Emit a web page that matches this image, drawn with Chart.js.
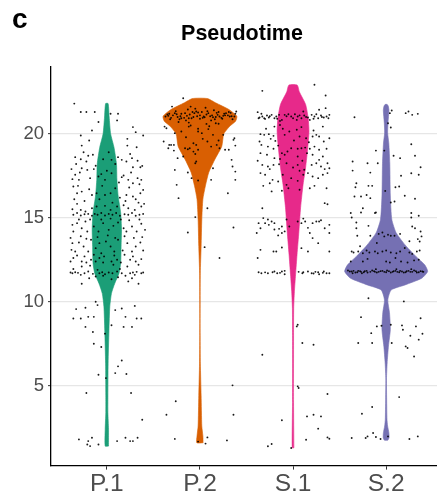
<!DOCTYPE html>
<html>
<head>
<meta charset="utf-8">
<script src="https://cdn.jsdelivr.net/npm/chart.js@4/dist/chart.umd.min.js"></script>
<style>
html,body{margin:0;padding:0;background:#fff;overflow:hidden;width:437px;height:502px;}
canvas{display:block;}
</style>
</head>
<body>
<canvas id="c" width="446" height="502"></canvas>
<script>
// ---------- DATA ----------
const categories = ['P.1', 'P.2', 'S.1', 'S.2'];
const yTicks = [5, 10, 15, 20];
const chartTitle = 'Pseudotime';
const panelLabel = 'c';

// violin density profiles (value, relative half-width; 1 = widest violin)
const p1DensY = [1.4, 2.4, 3.4, 4.4, 6.3, 8.3, 9.7, 10.5, 11.1, 11.7, 12.3, 13.3, 14.3, 15.3, 16.3, 17.3, 18.2, 19.2, 20.0, 21.0, 21.8];
const p1DensW = [0.04, 0.04, 0.025, 0.025, 0.03, 0.05, 0.07, 0.11, 0.19, 0.29, 0.33, 0.34, 0.35, 0.33, 0.27, 0.24, 0.23, 0.17, 0.09, 0.055, 0.03];

const p2DensY = [1.6, 2.0, 2.6, 4.4, 6.3, 8.0, 10.0, 11.7, 13.3, 14.9, 16.1, 16.9, 17.7, 18.5, 19.25, 20.0, 20.45, 20.75, 21.05, 21.45, 21.85, 22.1];
const p2DensW = [0.075, 0.07, 0.044, 0.028, 0.01, 0.004, 0.004, 0.008, 0.028, 0.044, 0.07, 0.13, 0.21, 0.36, 0.52, 0.57, 0.71, 0.85, 0.88, 0.69, 0.37, 0.18];

const s1DensY = [1.3, 4.0, 8.0, 9.6, 10.6, 11.6, 12.8, 14.2, 15.6, 17.0, 18.0, 19.15, 20.15, 20.95, 21.75, 22.5, 22.9];
const s1DensW = [0.02, 0.012, 0.012, 0.015, 0.032, 0.06, 0.095, 0.14, 0.18, 0.24, 0.30, 0.35, 0.38, 0.36, 0.30, 0.15, 0.10];

const s2DensY = [1.75, 1.9, 2.2, 2.6, 3.0, 4.2, 5.4, 6.35, 7.35, 8.35, 9.35, 10.1, 10.7, 11.0, 11.4, 11.8, 12.2, 12.7, 13.3, 14.1, 14.9, 16.3, 18.25, 19.45, 20.05, 20.65, 21.4, 21.65, 21.75];
const s2DensW = [0.04, 0.07, 0.065, 0.035, 0.02, 0.012, 0.008, 0.024, 0.055, 0.10, 0.08, 0.04, 0.12, 0.45, 0.85, 0.99, 0.92, 0.71, 0.48, 0.24, 0.135, 0.10, 0.087, 0.063, 0.036, 0.044, 0.067, 0.05, 0.025];

// jittered cells: [jitter offset, pseudotime]
const p1Points = [
[-0.35,21.8],[-0.28,21.3],[-0.22,21.3],[-0.13,21.3],[0.04,21.2],[0.12,21.2],[0.11,20.8],[-0.09,20.7],[0.28,20.4],[0.31,20.1],[-0.28,19.9],[-0.16,20.2],[0.39,19.9],[-0.19,19.6],[0.22,19.7],[-0.27,19.3],[0.22,19.3],[0.32,19.2],
[-0.34,18.61],[-0.28,18.49],[-0.22,18.35],[-0.2,18.69],[-0.15,18.75],[-0.04,18.49],[0.05,18.45],[0.12,18.61],[0.16,18.45],[0.21,18.35],[0.27,18.55],[0.36,18.01],[0.38,18.09],[0.28,18.01],[-0.27,17.95],[-0.21,17.85],
[-0.37,17.3],[-0.34,17.56],[-0.3,17.26],[-0.18,17.36],[-0.09,17.46],[-0.06,17.6],[-0.02,17.26],[0.05,17.65],[0.16,17.42],[0.18,17.52],[0.23,17.26],[0.28,17.06],[0.33,17.36],[0.37,17.26],[-0.36,16.86],[-0.32,16.46],[-0.27,16.56],[-0.16,16.36],[-0.11,16.46],[-0.02,16.36],[0.04,16.46],[0.09,16.76],[0.21,16.36],[0.28,16.27],[0.36,16.46],[0.39,16.66],
[-0.37,15.51],[-0.32,15.83],[-0.28,15.47],[-0.23,15.37],[-0.16,15.57],[-0.11,15.67],[-0.02,15.71],[0.04,15.47],[0.11,15.67],[0.18,15.75],[0.23,15.57],[0.3,15.47],[0.37,15.67],[0.4,15.83],
[-0.36,15.18],[-0.32,15.28],[-0.28,15.14],[-0.24,15.21],[-0.2,15.23],[-0.16,15.12],[-0.13,15.23],[-0.1,15.18],[-0.06,15.28],[-0.02,15.14],[0.02,15.23],[0.06,15.18],[0.1,15.28],[0.14,15.12],[0.19,15.21],[0.23,15.18],[0.27,15.28],[0.31,15.12],[0.35,15.18],[0.39,15.23],
[-0.37,14.58],[-0.32,14.68],[-0.27,14.38],[-0.23,14.78],[-0.14,14.48],[-0.09,14.18],[-0.04,14.68],[0.02,14.28],[0.07,14.52],[0.12,14.72],[0.18,14.38],[0.21,14.18],[0.27,14.48],[0.32,14.18],[0.37,14.64],[0.41,14.28],[-0.36,14.18],[-0.21,14.18],
[-0.37,13.49],[-0.38,13.09],[-0.34,12.99],[-0.3,13.53],[-0.25,13.29],[-0.2,12.99],[-0.17,13.69],[-0.12,13.19],[-0.08,13.49],[-0.06,12.89],[-0.01,13.59],[0.04,13.29],[0.08,12.99],[0.12,13.69],[0.17,13.05],[0.22,13.49],[0.27,12.99],[0.31,13.29],[0.36,13.53],[0.39,13.05],
[-0.39,12.4],[-0.36,12.6],[-0.27,12.4],[-0.22,12.34],[-0.17,12.5],[-0.12,12.4],[-0.08,12.6],[-0.04,12.34],[0.05,12.4],[0.11,12.5],[0.15,12.34],[0.25,12.5],[0.31,12.4],[0.37,12.54],[-0.27,12.1],
[-0.39,11.74],[-0.37,11.7],[-0.34,11.76],[-0.31,11.72],[-0.24,11.7],[-0.2,11.8],[-0.15,11.66],[-0.08,11.7],[-0.05,11.76],[-0.02,11.64],[0.02,11.74],[0.06,11.7],[0.11,11.8],[0.16,11.7],[0.25,11.7],[0.28,11.74],[0.32,11.78],[0.37,11.7],[0.39,11.74],
[-0.27,11.07],[-0.19,11.4],[-0.12,11.5],[0.05,11.34],[0.12,11.46],[0.23,11.21],[0.27,11.4],[0.34,11.07],
[-0.33,18.2],[-0.25,18.9],[-0.12,18.1],[0.02,18.9],[0.09,18.2],[0.25,18.8],[0.33,18.4],[-0.38,17.9],[-0.29,17.7],[-0.14,17.9],[0.0,17.8],[0.13,17.1],[0.26,17.7],[0.35,17.0],[-0.31,16.9],[-0.19,16.7],[-0.05,16.9],[0.14,16.2],[0.24,16.8],[0.31,16.1],[-0.35,16.1],[-0.24,16.0],[-0.08,16.1],[0.06,15.9],[0.2,16.0],[0.34,15.9],
[-0.3,14.9],[-0.18,14.9],[-0.06,14.9],[0.04,14.95],[0.15,14.9],[0.24,14.85],[0.35,14.9],[-0.39,13.8],[-0.28,13.9],[-0.22,13.75],[-0.1,13.85],[0.01,13.95],[0.09,13.8],[0.19,13.9],[0.29,13.8],[0.38,13.85],[-0.32,12.75],[-0.24,12.7],[-0.14,12.8],[-0.03,12.7],[0.08,12.75],[0.19,12.8],[0.28,12.7],[0.34,12.2],[-0.18,12.15],[0.07,12.2],[0.22,12.1],[-0.36,11.95],[-0.1,11.9],[0.14,11.95],[0.3,11.6],[-0.28,11.6],[-0.04,11.55],[0.2,11.55],
[-0.12,10.0],[-0.1,9.8],[-0.33,9.56],[-0.23,9.64],[-0.36,9.0],[-0.28,9.0],[-0.2,9.1],[-0.14,9.1],[0.09,9.5],[0.16,9.6],[0.2,9.1],[0.3,9.75],[0.18,8.5],[0.27,8.5],[0.32,9.0],[0.37,9.0],[0.05,8.6],[-0.23,8.5],[-0.15,8.2],[-0.02,8.1],[-0.14,7.5],[-0.06,7.3],[0.16,6.5],[0.12,6.15],[-0.01,5.45],[-0.09,5.65],[0.09,5.75],[0.21,5.7],[-0.22,4.56],[0.26,4.56],[0.38,2.97],[-0.3,1.8],[-0.2,1.7],[-0.16,1.9],[-0.21,1.5],[-0.09,1.5],[0.11,1.7],[0.2,1.9],[0.25,1.7],[0.28,1.7],[0.33,1.9],[-0.18,1.4]
];

const p2Points = [
[-0.3,21.62],[-0.18,22.12],[-0.1,21.62],[-0.27,21.23],[-0.25,21.17],[-0.22,20.87],[-0.34,21.07],[-0.37,21.03],[-0.32,20.87],[-0.16,21.23],[-0.14,21.07],[-0.12,20.93],[-0.09,20.93],[-0.06,21.23],[-0.04,21.33],[-0.02,21.27],[0.04,21.03],[0.05,20.99],[0.09,21.23],[0.14,20.99],[0.16,20.87],[0.19,21.13],[0.21,21.03],[0.25,21.07],[0.28,21.23],[0.32,21.03],[0.35,20.87],[0.37,21.03],[0.39,21.33],[-0.38,20.43],[-0.2,20.93],[-0.12,20.67],[0.07,20.59],[0.17,20.63],[-0.36,20.33],
[-0.29,21.1],[-0.24,21.0],[-0.2,21.2],[-0.11,21.15],[-0.07,21.0],[0.0,21.1],[0.02,21.3],[0.07,21.15],[0.11,21.05],[0.18,21.25],[0.23,20.95],[0.26,21.2],[0.3,21.1],[0.33,21.25],[-0.33,21.2],[-0.15,20.8],[0.12,20.8],[0.0,20.9],[-0.05,21.5],[0.06,21.55],[-0.13,21.45],[0.15,21.4],
[-0.35,21.15],[-0.31,20.95],[-0.26,21.35],[-0.21,21.05],[-0.17,20.95],[-0.08,21.3],[-0.03,21.05],[0.03,20.95],[0.08,21.35],[0.13,21.1],[0.17,21.0],[0.2,21.3],[0.24,20.9],[0.27,21.1],[0.31,21.3],[0.34,21.05],[0.38,21.2],[-0.23,20.7],[-0.1,20.5],[0.1,20.45],[0.2,20.6],[-0.02,20.3],[-0.15,19.8],[0.03,19.7],[0.2,19.6],
[-0.39,19.54],[-0.33,19.34],[-0.31,19.34],[-0.28,19.34],[-0.34,19.14],[-0.28,19.0],[-0.27,20.04],[-0.2,20.14],[-0.12,20.43],[-0.02,20.14],[0.02,20.04],[0.09,20.28],[0.14,19.94],[0.25,19.94],[0.18,19.34],[0.12,19.24],[0.08,19.54],[-0.16,19.14],[-0.13,19.08],[-0.11,19.14],[-0.07,19.44],[-0.04,19.34],[-0.02,19.05],[-0.07,18.94],[-0.05,18.8],[0.21,19.14],[0.27,19.05],[0.31,19.05],[0.36,19.64],[0.37,19.74],[0.38,19.3],[-0.24,18.55],[-0.18,18.65],[-0.04,18.35],[-0.05,18.25],[0.34,18.45],[0.35,18.05],[0.14,17.95],[-0.27,17.85],[-0.13,17.7],[-0.09,17.36],[-0.02,17.22],[0.12,17.26],[0.38,17.75],[0.38,17.26],[-0.25,16.96],[0.3,16.46],[-0.23,16.17],[0.08,15.57],[-0.05,15.04],[0.36,14.42],[-0.13,14.12],[0.05,13.25],[0.21,12.6],[0.35,5.02],[-0.26,4.07],[-0.36,3.27],[0.36,3.27],[-0.27,1.83],[0.08,1.92],[0.06,1.55],[0.29,1.74],[-0.02,1.67]
];

const s1Points = [
[-0.33,22.56],[0.23,22.92],[0.35,22.28],
[-0.38,21.29],[-0.36,20.97],[-0.33,21.03],[-0.31,20.93],[-0.28,21.09],[-0.26,20.97],[-0.23,21.13],[-0.2,20.93],[-0.18,21.03],[-0.15,21.13],[-0.12,20.83],[-0.09,21.13],[-0.05,21.17],[-0.02,21.03],[0,20.93],[0.02,21.17],[0.05,21.03],[0.09,20.93],[0.12,21.09],[0.16,20.97],[0.2,21.13],[0.23,21.03],[0.25,21.17],[0.27,20.93],[0.3,21.09],[0.33,20.97],[0.36,21.03],[0.38,20.93],[0.39,21.13],[-0.37,20.93],[-0.3,20.89],[-0.14,20.77],[0.04,20.83],[0.11,21.33],[0.18,20.83],[0.28,21.43],[0.35,21.53],
[-0.34,21.2],[-0.25,21.05],[-0.17,20.9],[-0.07,21.05],[0.07,21.1],[0.14,21.0],[0.22,20.9],[0.31,21.0],[-0.29,20.3],[-0.11,20.3],[0.09,20.4],[0.22,20.2],[-0.24,19.7],[0.01,19.6],[0.17,19.5],
[-0.35,19.98],[-0.31,19.94],[-0.26,19.98],[-0.21,19.88],[-0.2,20.43],[-0.14,20.53],[-0.09,19.94],[-0.04,20.14],[0.04,20.24],[0.07,19.84],[0.14,19.74],[0.21,19.84],[0.25,19.94],[0.28,19.84],[0.32,20.43],[0.39,19.74],[0.33,19.54],[-0.36,19.54],[-0.19,19.58],
[-0.34,19.34],[-0.27,19.24],[-0.21,19.11],[-0.16,19.3],[-0.12,18.85],[-0.06,18.95],[-0.02,19.14],[0.05,19.11],[0.09,19.14],[0.13,19.18],[0.18,19.11],[0.23,19.24],[0.28,19.05],[0.36,19.11],[-0.35,18.85],[-0.28,18.75],[-0.2,18.55],[-0.09,18.75],[0.05,18.65],[0.15,18.85],[0.21,18.75],[0.32,18.65],[-0.33,18.15],[-0.27,18.05],[-0.21,18.15],[-0.15,18.19],[-0.07,18.25],[0,17.99],[0.05,18.15],[0.12,17.86],[0.2,18.15],[0.25,18.25],[0.3,18.05],[0.37,18.25],[0.39,17.95],
[-0.38,18.4],[-0.14,18.5],[0.1,18.4],[0.28,18.45],[-0.25,17.9],[0.07,17.8],[0.34,17.9],[-0.32,16.9],[0.23,16.9],
[-0.35,17.66],[-0.3,17.56],[-0.25,17.06],[-0.22,17.26],[-0.16,17.16],[-0.11,17.56],[-0.07,16.96],[-0.02,17.36],[0.05,17.2],[0.11,17.56],[0.16,17.66],[0.21,17.46],[0.27,17.36],[0.32,17.56],[0.37,17.66],[-0.23,16.57],[-0.12,16.61],[-0.05,16.76],[0.07,16.67],[0.18,16.76],[0.36,16.76],
[0.34,15.87],[0.37,15.81],[-0.33,15.57],
[-0.39,14.09],[-0.37,14.68],[-0.35,14.38],[-0.32,14.98],[-0.3,14.68],[-0.26,14.58],[-0.23,14.78],[-0.2,14.68],[-0.15,14.34],[-0.12,14.48],[-0.09,14.19],[-0.04,14.48],[0.05,14.78],[0.09,14.68],[0.13,14.78],[0.18,14.09],[0.21,14.68],[0.25,14.78],[0.28,14.78],[0.34,14.38],[0.39,14.58],[-0.12,14.09],[-0.16,13.95],[0.39,14.09],[0.21,13.79],[0.27,13.49],
[-0.27,14.9],[-0.07,14.9],[0.11,14.95],[0.3,14.85],[-0.2,14.3],[0.16,14.4],
[-0.35,13.09],[-0.21,12.99],[-0.18,12.99],[-0.12,13.23],[0.09,13.19],[0.16,12.99],[0.39,12.99],[-0.38,12.6],
[-0.37,11.76],[-0.34,11.7],[-0.27,11.7],[-0.22,11.76],[-0.2,11.8],[-0.17,11.7],[-0.12,11.8],[-0.09,11.84],[-0.09,11.64],[0.11,11.76],[0.16,11.8],[0.2,11.7],[0.27,11.76],[0.28,11.64],[0.39,11.7],[0.1,11.7],[0.22,11.68],[0.32,11.72],[0.36,11.7],
[-0.3,11.75],[-0.14,11.72],[0.06,11.78],[0.24,11.78],[0.33,11.8],
[0.05,8.63],[0.04,8.53],[0.1,7.54],[0.22,7.44],[-0.33,6.84],[0.05,4.96],[0.06,4.86],[0.37,4.5],[0.15,3.17],[0.22,3.27],[0.3,3.17],[-0.12,2.94],[0.27,2.44],[0.14,1.78],[0.37,1.92],[0.39,1.84],[-0.27,1.39],[-0.23,1.53],[-0.02,1.29]
];

const s2Points = [
[-0.34,20.99],[0.06,21.39],[0.04,21.23],[0.21,21.23],[0.24,21.33],[0.28,21.13],[0.34,21.19],[0.02,20.63],[0.05,20.38],[0.27,19.38],[-0.11,19.0],[-0.02,19.0],[0.08,18.69],[0.15,18.55],[0.31,18.69],[-0.36,18.35],[-0.2,18.25],[-0.09,18.25],[-0.36,17.81],[-0.17,17.69],[0.37,18.01],[0.35,17.56],[0.27,17.65],[0.16,17.5],[-0.32,17.06],[-0.33,16.82],[-0.19,16.9],[-0.15,16.9],[-0.01,16.6],[0.14,16.86],[0.1,16.82],[0.2,16.31],[-0.34,16.27],[-0.27,16.27],[-0.21,16.36],[-0.17,16.17],[0.05,15.91],[0.09,15.97],[0.31,16.13],[-0.25,15.57],[-0.27,15.31],[-0.12,15.28],[-0.11,15.31],[0.27,15.28],[0.35,15.12],[-0.38,15.28],[-0.37,15.02],[0.27,15.02],[-0.32,14.72],[-0.19,14.52],[-0.32,14.38],[-0.31,13.93],[-0.17,13.93],[-0.08,14.04],[-0.04,14.12],[-0.02,13.89],[0.02,13.99],[0.05,13.93],[0.09,13.93],[0.15,14.04],[0.28,14.48],[0.31,14.38],[0.37,14.18],[0.38,13.89],[0.36,13.59],[0.34,13.73],
[-0.37,12.99],[-0.35,12.93],[-0.3,12.99],[-0.25,12.89],[-0.21,13.05],[-0.18,12.93],[-0.12,12.99],[-0.09,12.89],[-0.04,12.99],[0,13.05],[0.05,12.93],[0.11,12.89],[0.15,12.99],[0.25,12.93],[0.28,12.85],[0.33,12.99],[0.36,13.05],
[-0.38,12.4],[-0.25,12.4],[0,12.4],[0.04,12.34],[0.16,12.4],[0.23,12.34],[0.3,12.46],[0.35,12.5],
[-0.2,12.55],[0.1,12.6],[-0.28,13.3],[0.2,13.2],[-0.1,13.5],[0.25,13.6],
[-0.41,11.86],[-0.37,11.8],[-0.33,11.74],[-0.3,11.84],[-0.27,11.78],[-0.23,11.82],[-0.2,11.74],[-0.15,11.86],[-0.12,11.78],[-0.1,11.74],[-0.06,11.82],[-0.02,11.78],[0.01,11.86],[0.05,11.74],[0.08,11.82],[0.12,11.78],[0.15,11.84],[0.19,11.74],[0.22,11.82],[0.26,11.78],[0.3,11.86],[0.33,11.74],[0.37,11.82],[0.4,11.78],[-0.36,11.7],[-0.26,11.7],[-0.11,11.94],[0.11,11.94],[0.27,11.94],
[-0.39,11.8],[-0.35,11.84],[-0.31,11.76],[-0.28,11.82],[-0.24,11.76],[-0.21,11.84],[-0.17,11.78],[-0.13,11.82],[-0.08,11.78],[-0.04,11.84],[0.0,11.76],[0.03,11.82],[0.07,11.78],[0.1,11.84],[0.14,11.76],[0.17,11.8],[0.21,11.76],[0.24,11.84],[0.28,11.78],[0.32,11.82],[0.35,11.76],[0.39,11.8],
[-0.19,10.21],[0.19,10.02],[-0.27,9.08],[-0.1,8.53],[-0.05,8.57],[0.05,8.63],[0.17,8.59],[0.18,8.33],[0.32,8.53],[0.37,9.02],[-0.16,8.13],[-0.3,7.54],[-0.15,7.54],[0.06,7.54],[0.26,7.97],[0.39,8.09],[0.21,7.34],[0.23,7.24],[0.3,6.74],[0.35,7.74],[0.14,4.32],[-0.26,3.33],[-0.15,3.73],[-0.14,2.18],[-0.2,1.98],[-0.22,1.88],[-0.37,1.88],[-0.11,1.94],[-0.06,1.82],[0.02,1.98],[0.25,1.82],[0.34,1.98]
];

// ---------- STYLE ----------
const violinColors = ['#1B9E77', '#D95F02', '#E7298A', '#7570B3'];
const FONT = '"Liberation Sans", Arial, Helvetica, sans-serif';
const VIOLIN_HALF = 0.45; // max half width in category units

const densY = [p1DensY, p2DensY, s1DensY, s2DensY];
const densW = [p1DensW, p2DensW, s1DensW, s2DensW];
const pointSets = [p1Points, p2Points, s1Points, s2Points];

function violinShape(center, ys, ws) {
  const pts = [];
  for (let i = 0; i < ys.length; i++) pts.push({x: center + ws[i] * VIOLIN_HALF, y: ys[i]});
  for (let i = ys.length - 1; i >= 0; i--) pts.push({x: center - ws[i] * VIOLIN_HALF, y: ys[i]});
  pts.push({x: pts[0].x, y: pts[0].y});
  return pts;
}

const datasets = [];
categories.forEach((cat, i) => {
  datasets.push({
    label: cat + ' violin',
    data: violinShape(i + 1, densY[i], densW[i]),
    showLine: true,
    fill: 'shape',
    backgroundColor: violinColors[i],
    borderColor: violinColors[i],
    borderWidth: 0.6,
    tension: 0.2,
    pointRadius: 0,
    pointHoverRadius: 0,
    order: 2
  });
});
categories.forEach((cat, i) => {
  datasets.push({
    label: cat + ' cells',
    data: pointSets[i].map(p => ({x: i + 1 + p[0], y: p[1]})),
    showLine: false,
    pointRadius: 0.95,
    pointBorderWidth: 0,
    pointBackgroundColor: 'rgba(0,0,0,0.9)',
    order: 1
  });
});

// title and panel letter drawn on the canvas at ggplot's panel-centred position
const textPlugin = {
  id: 'panelText',
  afterDraw(chart) {
    const ctx = chart.ctx;
    ctx.save();
    ctx.fillStyle = '#000';
    ctx.textBaseline = 'alphabetic';
    ctx.textAlign = 'left';
    ctx.font = 'bold 28px ' + FONT;
    ctx.fillText(panelLabel, 12, 28);
    ctx.textAlign = 'center';
    ctx.font = 'bold 21.5px ' + FONT;
    ctx.fillText(chartTitle, 242, 40);
    ctx.restore();
  }
};

new Chart(document.getElementById('c'), {
  type: 'scatter',
  data: {datasets},
  plugins: [textPlugin],
  options: {
    responsive: false,
    animation: false,
    events: [],
    layout: {padding: {left: 0, right: 2, top: 67, bottom: 3}},
    plugins: {
      legend: {display: false},
      tooltip: {enabled: false},
      title: {display: false}
    },
    scales: {
      x: {
        type: 'linear',
        min: 0.4,
        max: 4.6,
        afterBuildTicks(scale) { scale.ticks = categories.map((c, i) => ({value: i + 1})); },
        ticks: {
          callback: (v) => categories[Math.round(v) - 1] || '',
          color: '#4D4D4D',
          font: {family: FONT, size: 24.5},
          padding: 0,
          maxRotation: 0,
          autoSkip: false
        },
        grid: {display: true, drawOnChartArea: false, drawTicks: true, tickLength: 4, tickColor: '#333', tickWidth: 1},
        border: {display: true, color: '#000', width: 1.3}
      },
      y: {
        type: 'linear',
        min: 0.24,
        max: 23.98,
        afterBuildTicks(scale) { scale.ticks = yTicks.map(v => ({value: v})); },
        afterFit(scale) { scale.width = 51; },
        ticks: {
          color: '#4D4D4D',
          font: {family: FONT, size: 18.5},
          padding: 4
        },
        grid: {display: true, drawOnChartArea: true, color: '#E6E6E6', lineWidth: 1.3, drawTicks: true, tickLength: 3, tickColor: '#333', tickWidth: 1},
        border: {display: true, color: '#000', width: 1.3}
      }
    }
  }
});
</script>
</body>
</html>
